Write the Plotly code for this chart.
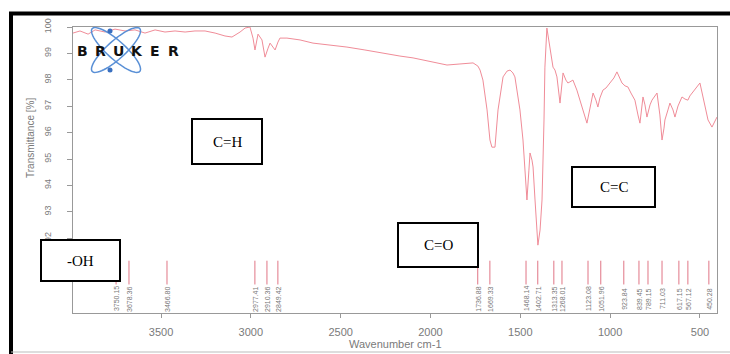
import numpy as np
import plotly.graph_objects as go

# ---------------- data ----------------
wavenumber = [3990, 3951, 3906, 3867, 3812, 3756, 3700, 3645, 3589, 3533, 3478, 3422, 3366, 3311,
              3255, 3199, 3144, 3105, 3060, 3032, 3005, 2988, 2977, 2960, 2938, 2921, 2904, 2893,
              2877, 2865, 2849, 2838, 2799, 2726, 2654, 2559, 2465, 2365, 2281, 2170, 2097, 2003,
              1908, 1836, 1763, 1736, 1724, 1708, 1685, 1669, 1658, 1641, 1624, 1596, 1574, 1557,
              1541, 1530, 1513, 1502, 1485, 1474, 1463, 1452, 1446, 1435, 1429, 1418, 1407, 1402,
              1390, 1379, 1368, 1363, 1352, 1335, 1318, 1307, 1296, 1279, 1262, 1246, 1235, 1224,
              1207, 1185, 1168, 1146, 1129, 1112, 1095, 1079, 1068, 1057, 1040, 1023, 1001, 979,
              962, 945, 934, 917, 901, 884, 862, 845, 834, 817, 806, 795, 778, 767, 750, 739, 723,
              711, 700, 695, 678, 667, 650, 639, 622, 600, 583, 567, 556, 539, 517, 500, 483, 467,
              455, 433, 416, 405]
transmittance = [99.77, 99.85, 99.73, 99.89, 99.81, 99.92, 99.85, 99.89, 99.77, 99.89, 99.81, 99.85,
                 99.81, 99.85, 99.85, 99.77, 99.66, 99.62, 99.81, 99.96, 100.00, 99.58, 99.13, 99.73,
                 99.51, 98.86, 99.20, 99.39, 99.24, 99.13, 99.43, 99.58, 99.58, 99.51, 99.39, 99.32,
                 99.24, 99.13, 99.02, 98.90, 98.83, 98.71, 98.56, 98.60, 98.64, 98.52, 98.37, 97.99,
                 96.86, 95.72, 95.45, 95.45, 96.86, 98.11, 98.33, 98.37, 98.26, 98.11, 97.42, 96.86,
                 95.72, 94.70, 93.45, 94.58, 95.23, 94.96, 94.70, 93.45, 92.20, 91.74, 92.31, 93.45,
                 96.48, 98.48, 99.96, 99.13, 98.48, 98.37, 98.11, 97.12, 98.26, 97.99, 97.88, 97.92,
                 97.99, 97.61, 97.23, 96.67, 96.36, 96.93, 97.50, 97.23, 96.97, 97.31, 97.61, 97.69,
                 97.88, 98.07, 98.30, 98.07, 97.88, 97.77, 97.73, 97.50, 97.23, 96.67, 96.36, 97.35,
                 97.05, 96.59, 97.05, 97.23, 97.39, 97.50, 96.67, 95.72, 96.17, 96.48, 96.86, 97.12,
                 96.86, 96.59, 97.01, 97.35, 97.27, 97.23, 97.39, 97.54, 97.69, 97.88, 97.35, 96.86,
                 96.48, 96.21, 96.48, 96.59]

peak_labels = ["3750.15", "3678.36", "3466.80", "2977.41", "2910.36", "2849.42", "1736.88",
               "1669.33", "1468.14", "1402.71", "1313.35", "1268.01", "1123.08", "1051.96",
               "923.84", "839.45", "789.15", "711.03", "617.15", "567.12", "450.28"]
peak_wn = [float(s) for s in peak_labels]

x_ticks = [3500, 3000, 2500, 2000, 1500, 1000, 500]
y_ticks = [91, 92, 93, 94, 95, 96, 97, 98, 99, 100]

group_labels = ["-OH", "C=H", "C=O", "C=C"]

if len(wavenumber) != len(transmittance):
    raise SystemExit("length mismatch %d %d" % (len(wavenumber), len(transmittance)))

# ---------------- layout helpers ----------------
W, H = 730, 354
L, R, T, B = 73, 13, 27, 41
PW, PH = W - L - R, H - T - B


def px(x):
    return (x - L) / PW


def py(y):
    return (H - B - y) / PH


SPEC = "#f08c98"
GREY = "#7a7a7a"

fig = go.Figure()

fig.add_trace(go.Scatter(x=wavenumber, y=transmittance, mode="lines",
                         line=dict(color=SPEC, width=1), hoverinfo="skip", showlegend=False))

# peak marker lines
lx, ly = [], []
for w in peak_wn:
    lx += [w, w, None]
    ly += [90.25, 91.15, None]
fig.add_trace(go.Scatter(x=lx, y=ly, mode="lines", line=dict(color="#e07585", width=1),
                         hoverinfo="skip", showlegend=False))

annotations = []
for w, s in zip(peak_wn, peak_labels):
    annotations.append(dict(x=w, y=py(299), xref="x", yref="paper", text=s, showarrow=False,
                            textangle=-90, font=dict(size=7, color="#777", family="Liberation Sans"),
                            xanchor="center", yanchor="middle"))

shapes = []
# outer frame
shapes.append(dict(type="line", xref="paper", yref="paper", x0=px(9), x1=px(730), y0=py(13.5), y1=py(13.5),
                   line=dict(color="black", width=4)))
shapes.append(dict(type="line", xref="paper", yref="paper", x0=px(11), x1=px(11), y0=py(12), y1=py(354),
                   line=dict(color="black", width=4)))
shapes.append(dict(type="line", xref="paper", yref="paper", x0=px(11), x1=px(730), y0=py(352), y1=py(352),
                   line=dict(color="#bbbbbb", width=1)))


# Bruker logo ellipses
def ellipse_path(cx, cy, a, b, ang):
    t = np.linspace(0, 2 * np.pi, 60)
    ca, sa = np.cos(np.radians(ang)), np.sin(np.radians(ang))
    xs = cx + a * np.cos(t) * ca - b * np.sin(t) * sa
    ys = cy + a * np.cos(t) * sa + b * np.sin(t) * ca
    pts = ["%.5f,%.5f" % (px(x), py(y)) for x, y in zip(xs, ys)]
    return "M" + " L".join(pts) + " Z"


for ang in (42, -42):
    shapes.append(dict(type="path", xref="paper", yref="paper", path=ellipse_path(116, 50, 32, 9, ang),
                       line=dict(color="#5a90d6", width=1.5), layer="above"))
for (cx, cy) in [(110, 31), (110, 70)]:
    shapes.append(dict(type="circle", xref="paper", yref="paper", x0=px(cx - 2.5), x1=px(cx + 2.5),
                       y0=py(cy + 2.5), y1=py(cy - 2.5), fillcolor="#3a70c0", line=dict(width=0),
                       layer="above"))
for i, ch in enumerate("BRUKER"):
    annotations.append(dict(x=px(82 + 18.2 * i), y=py(51), xref="paper", yref="paper",
                            text="<b>%s</b>" % ch, showarrow=False,
                            font=dict(size=14, color="#111", family="DejaVu Sans"),
                            xanchor="center", yanchor="middle"))

# functional group boxes
boxes = [(41, 120, 240, 281), (192, 262, 119, 164), (398, 478, 223, 267), (572, 655, 167, 207)]
for (x0, x1, y0, y1), lab in zip(boxes, group_labels):
    shapes.append(dict(type="rect", xref="paper", yref="paper", x0=px(x0), x1=px(x1), y0=py(y1), y1=py(y0),
                       fillcolor="white", line=dict(color="black", width=2), layer="above"))
    annotations.append(dict(x=px((x0 + x1) / 2), y=py((y0 + y1) / 2), xref="paper", yref="paper", text=lab,
                            showarrow=False, font=dict(size=15, color="black", family="Liberation Serif"),
                            xanchor="center", yanchor="middle"))

# axis titles
annotations.append(dict(x=px(30), y=py(138), xref="paper", yref="paper", text="Transmittance [%]",
                        textangle=-90, showarrow=False, xanchor="center", yanchor="middle",
                        font=dict(size=10, color=GREY, family="Liberation Sans")))
annotations.append(dict(x=0.5, y=py(344), xref="paper", yref="paper", text="Wavenumber cm-1",
                        showarrow=False, xanchor="center", yanchor="middle",
                        font=dict(size=11, color=GREY, family="Liberation Sans")))

fig.update_layout(
    width=W, height=H, margin=dict(l=L, r=R, t=T, b=B),
    paper_bgcolor="white", plot_bgcolor="white",
    showlegend=False, shapes=shapes, annotations=annotations,
    xaxis=dict(range=[3990, 405], tickvals=x_ticks, ticktext=[str(v) for v in x_ticks],
               showgrid=False, zeroline=False, showline=True, mirror=True, linecolor="#999",
               linewidth=1, ticks="outside", ticklen=4, tickcolor="#999",
               tickfont=dict(size=11, color=GREY, family="Liberation Sans"), ticklabelstandoff=5),
    yaxis=dict(range=[89.17, 100], tickvals=y_ticks, ticktext=[str(v) for v in y_ticks],
               showgrid=False, zeroline=False, showline=True, mirror=True, linecolor="#999",
               linewidth=1, ticks="outside", ticklen=5, tickcolor="#999", tickangle=-90,
               ticklabelstandoff=12,
               tickfont=dict(size=9, color=GREY, family="Liberation Sans")),
)

fig.write_html("out.html")
